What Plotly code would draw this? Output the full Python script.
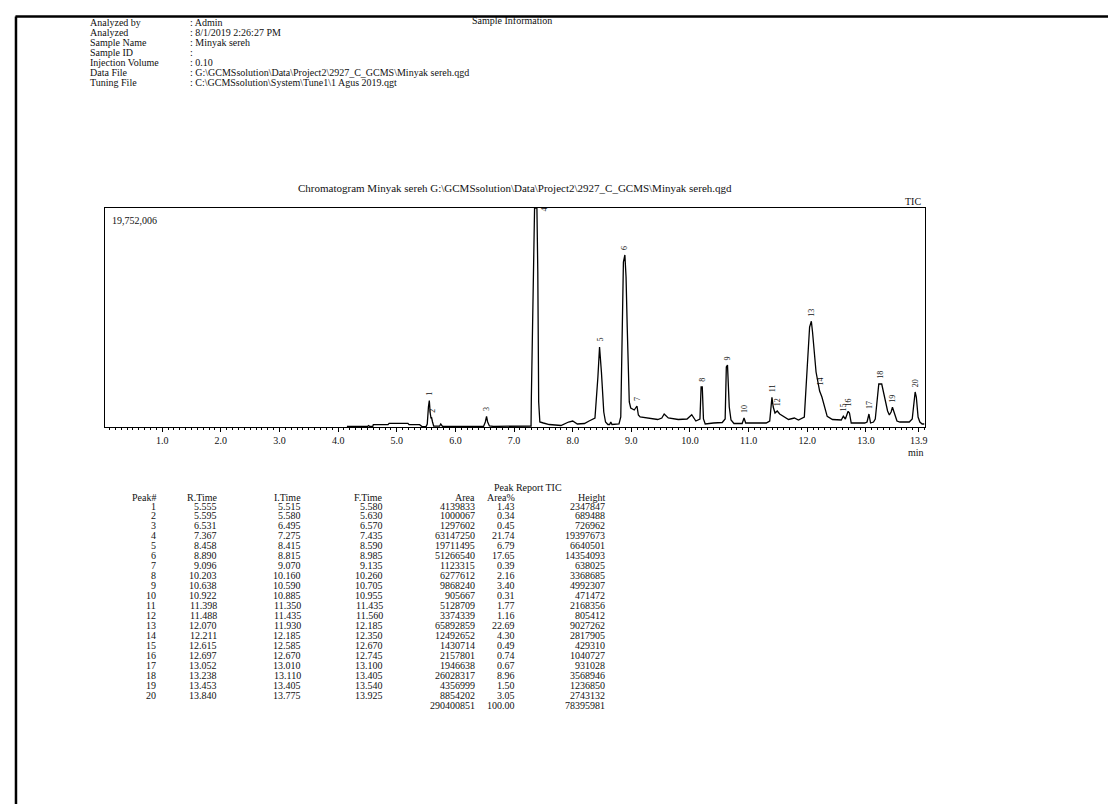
import plotly.graph_objects as go
import numpy as np

W, H = 1116, 804
FONT = "Liberation Serif"

# ---------------- data ----------------
info_labels = ["Analyzed by", "Analyzed", "Sample Name", "Sample ID",
               "Injection Volume", "Data File", "Tuning File"]
info_values = [": Admin", ": 8/1/2019 2:26:27 PM", ": Minyak sereh", ":", ": 0.10",
               ": G:\\GCMSsolution\\Data\\Project2\\2927_C_GCMS\\Minyak sereh.qgd",
               ": C:\\GCMSsolution\\System\\Tune1\\1 Agus 2019.qgt"]

chart_title = "Chromatogram Minyak sereh G:\\GCMSsolution\\Data\\Project2\\2927_C_GCMS\\Minyak sereh.qgd"
y_max = 19752006

# TIC trace (min, counts)
time_min = [4.15, 4.50, 4.52, 4.54, 4.59, 4.60, 4.85, 4.87, 5.19, 5.21, 5.39, 5.43, 5.50, 5.52, 5.54,
            5.555, 5.57, 5.585, 5.595, 5.61, 5.63, 5.73, 5.75, 5.78, 6.48, 6.51, 6.531, 6.55, 6.58,
            6.65, 7.27, 7.29, 7.295, 7.33, 7.35, 7.39, 7.405, 7.42, 7.44, 7.50, 7.60, 7.70, 7.80,
            7.93, 8.00, 8.08, 8.20, 8.28, 8.38, 8.43, 8.458, 8.49, 8.53, 8.56, 8.60, 8.63, 8.65,
            8.67, 8.79, 8.82, 8.84, 8.865, 8.89, 8.91, 8.93, 8.965, 8.99, 9.05, 9.096, 9.12, 9.15,
            9.30, 9.45, 9.52, 9.56, 9.63, 9.80, 9.95, 10.03, 10.10, 10.17, 10.19, 10.21, 10.23,
            10.26, 10.40, 10.55, 10.60, 10.62, 10.64, 10.67, 10.70, 10.75, 10.89, 10.922, 10.95,
            11.30, 11.36, 11.398, 11.42, 11.45, 11.488, 11.53, 11.68, 11.78, 11.85, 11.90, 11.95,
            12.00, 12.04, 12.07, 12.09, 12.15, 12.211, 12.25, 12.29, 12.34, 12.43, 12.58, 12.615,
            12.65, 12.697, 12.72, 12.75, 12.98, 13.02, 13.052, 13.08, 13.13, 13.16, 13.20, 13.22,
            13.27, 13.31, 13.37, 13.40, 13.43, 13.453, 13.48, 13.53, 13.58, 13.74, 13.79, 13.84,
            13.86, 13.89, 13.92, 13.96, 14.00]
intensity = [45000, 45000, 135000, 45000, 54000, 207000, 207000, 334000, 334000, 207000, 207000,
             36000, 36000, 271000, 1804000, 2390000, 1263000, 767000, 812000, 451000, 72000, 72000,
             271000, 54000, 54000, 451000, 947000, 451000, 90000, 54000, 45000, 90000, 2616000,
             13529000, 19752000, 19752000, 13980000, 2255000, 451000, 361000, 225000, 180000,
             135000, 451000, 541000, 271000, 316000, 541000, 812000, 4510000, 7215000, 4961000,
             1353000, 451000, 225000, 225000, 451000, 225000, 271000, 902000, 8117000, 14882000,
             15513000, 13529000, 9019000, 2255000, 1714000, 1533000, 1894000, 1082000, 902000,
             812000, 676000, 812000, 1172000, 812000, 676000, 722000, 1109000, 541000, 722000,
             3608000, 3608000, 722000, 271000, 361000, 406000, 722000, 5412000, 5592000, 1804000,
             631000, 316000, 316000, 812000, 361000, 361000, 541000, 2679000, 1804000, 1263000,
             1443000, 1172000, 676000, 812000, 631000, 767000, 902000, 5412000, 9019000, 9533000,
             8568000, 4961000, 3247000, 2706000, 1984000, 965000, 676000, 631000, 965000, 722000,
             1416000, 1263000, 361000, 361000, 451000, 1172000, 361000, 451000, 722000, 3157000,
             3878000, 3878000, 2886000, 1443000, 1082000, 1353000, 1777000, 1263000, 541000,
             451000, 451000, 722000, 3157000, 2706000, 902000, 451000, 271000, 271000]

x_tick_vals = [1, 2, 3, 4, 5, 6, 7, 8, 9, 10, 11, 12, 13, 13.9]
x_tick_text = ["1.0", "2.0", "3.0", "4.0", "5.0", "6.0", "7.0", "8.0", "9.0", "10.0",
               "11.0", "12.0", "13.0", "13.9"]

# Peak report
peak_no = list(range(1, 21))
r_time = [5.555, 5.595, 6.531, 7.367, 8.458, 8.890, 9.096, 10.203, 10.638, 10.922,
          11.398, 11.488, 12.070, 12.211, 12.615, 12.697, 13.052, 13.238, 13.453, 13.840]
i_time = [5.515, 5.580, 6.495, 7.275, 8.415, 8.815, 9.070, 10.160, 10.590, 10.885,
          11.350, 11.435, 11.930, 12.185, 12.585, 12.670, 13.010, 13.110, 13.405, 13.775]
f_time = [5.580, 5.630, 6.570, 7.435, 8.590, 8.985, 9.135, 10.260, 10.705, 10.955,
          11.435, 11.560, 12.185, 12.350, 12.670, 12.745, 13.100, 13.405, 13.540, 13.925]
area = [4139833, 1000067, 1297602, 63147250, 19711495, 51266540, 1123315, 6277612, 9868240,
        905667, 5128709, 3374339, 65892859, 12492652, 1430714, 2157801, 1946638, 26028317,
        4356999, 8854202]
area_pct = [1.43, 0.34, 0.45, 21.74, 6.79, 17.65, 0.39, 2.16, 3.40, 0.31, 1.77, 1.16, 22.69,
            4.30, 0.49, 0.74, 0.67, 8.96, 1.50, 3.05]
height = [2347847, 689488, 726962, 19397673, 6640501, 14354093, 638025, 3368685, 4992307,
          471472, 2168356, 805412, 9027262, 2817905, 429310, 1040727, 931028, 3568946,
          1236850, 2743132]
total_area = 290400851
total_pct = 100.00
total_height = 78395981

# ---------------- helpers ----------------
def px(x):
    return x / W


def py(y):
    return 1 - y / H


TXT = dict(family=FONT, size=10, color="#111111")

fig = go.Figure()
fig.add_trace(go.Scatter(x=time_min, y=intensity, mode="lines",
                         line=dict(color="#000000", width=1.3), hoverinfo="skip",
                         showlegend=False))

ann = []
# Sample info header
ann.append(dict(x=px(505), y=py(13), text="Sample Information", showarrow=False,
                xref="paper", yref="paper", xanchor="center", yanchor="middle", font=TXT))
for i, (lab, val) in enumerate(zip(info_labels, info_values)):
    yy = py(15 + 9.95 * i)
    ann.append(dict(x=px(80), y=yy, text=lab, showarrow=False, xref="paper", yref="paper",
                    xanchor="left", yanchor="middle", font=TXT))
    ann.append(dict(x=px(180), y=yy, text=val, showarrow=False, xref="paper", yref="paper",
                    xanchor="left", yanchor="middle", font=TXT))

# chart texts
ann.append(dict(x=px(508), y=py(180), text=chart_title, showarrow=False, xref="paper",
                yref="paper", xanchor="center", yanchor="middle",
                font=dict(family=FONT, size=11, color="#111111")))
ann.append(dict(x=px(917), y=py(193), text="TIC", showarrow=False, xref="paper",
                yref="paper", xanchor="right", yanchor="middle", font=TXT))
ann.append(dict(x=px(102), y=py(212), text=f"{y_max:,}", showarrow=False, xref="paper",
                yref="paper", xanchor="left", yanchor="middle", font=TXT))
ann.append(dict(x=px(910), y=py(445), text="min", showarrow=False, xref="paper",
                yref="paper", xanchor="center", yanchor="middle", font=TXT))

# peak labels
t_arr = np.array(time_min)
i_arr = np.array(intensity)
for n, rt in zip(peak_no, r_time):
    m = (t_arr >= rt - 0.02) & (t_arr <= rt + 0.02)
    top = i_arr[m].max() if m.any() else np.interp(rt, t_arr, i_arr)
    if top >= y_max * 0.97:
        ann.append(dict(x=rt, y=y_max, text=str(n), showarrow=False, xref="x", yref="y",
                        xanchor="center", yanchor="top", textangle=-90, xshift=9, yshift=2,
                        font=dict(family=FONT, size=8, color="#111111")))
    else:
        ann.append(dict(x=rt, y=top, text=str(n), showarrow=False, xref="x", yref="y",
                        xanchor="center", yanchor="bottom", textangle=-90, yshift=3,
                        font=dict(family=FONT, size=8, color="#111111")))

# peak table
ann.append(dict(x=px(521), y=py(479), text="Peak Report TIC", showarrow=False, xref="paper",
                yref="paper", xanchor="center", yanchor="middle", font=TXT))
col_right = [150, 212, 296, 378, 470, 510, 601]
headers = ["Peak#", "R.Time", "I.Time", "F.Time", "Area", "Area%", "Height"]
for xr, h in zip(col_right, headers):
    ann.append(dict(x=px(xr), y=py(489), text=h, showarrow=False, xref="paper", yref="paper",
                    xanchor="right", yanchor="middle", font=TXT))
for k in range(len(peak_no)):
    row = [str(peak_no[k]), f"{r_time[k]:.3f}", f"{i_time[k]:.3f}", f"{f_time[k]:.3f}",
           str(area[k]), f"{area_pct[k]:.2f}", str(height[k])]
    yy = py(498 + 9.95 * k)
    for xr, v in zip(col_right, row):
        ann.append(dict(x=px(xr), y=yy, text=v, showarrow=False, xref="paper", yref="paper",
                        xanchor="right", yanchor="middle", font=TXT))
yy = py(498 + 9.95 * len(peak_no))
for xr, v in zip(col_right[4:], [str(total_area), f"{total_pct:.2f}", str(total_height)]):
    ann.append(dict(x=px(xr), y=yy, text=v, showarrow=False, xref="paper", yref="paper",
                    xanchor="right", yanchor="middle", font=TXT))

# page border (top and left)
shapes = [
    dict(type="line", xref="paper", yref="paper", x0=px(7.5), x1=1.0, y0=py(8.5), y1=py(8.5),
         line=dict(color="#000000", width=2.5)),
    dict(type="line", xref="paper", yref="paper", x0=px(8), x1=px(8), y0=py(8.5), y1=0,
         line=dict(color="#000000", width=2.5)),
]

fig.update_layout(
    width=W, height=H, margin=dict(l=0, r=0, t=0, b=0),
    paper_bgcolor="white", plot_bgcolor="white",
    annotations=ann, shapes=shapes, showlegend=False,
    xaxis=dict(domain=[px(97), px(919)], range=[0.02, 14.0], showgrid=False, zeroline=False,
               showline=True, mirror=True, linecolor="#000000", linewidth=1,
               tickmode="array", tickvals=x_tick_vals, ticktext=x_tick_text,
               ticks="outside", ticklen=4, tickcolor="#000000", tickwidth=1,
               tickfont=dict(family=FONT, size=10, color="#111111"),
               minor=dict(dtick=0.1, tick0=0, ticks="outside", ticklen=2,
                          tickcolor="#000000", tickwidth=1, showgrid=False)),
    yaxis=dict(domain=[py(419), py(200)], range=[0, y_max], showgrid=False, zeroline=False,
               showline=True, mirror=True, linecolor="#000000", linewidth=1,
               showticklabels=False, ticks=""),
)

fig.write_html("out.html")
